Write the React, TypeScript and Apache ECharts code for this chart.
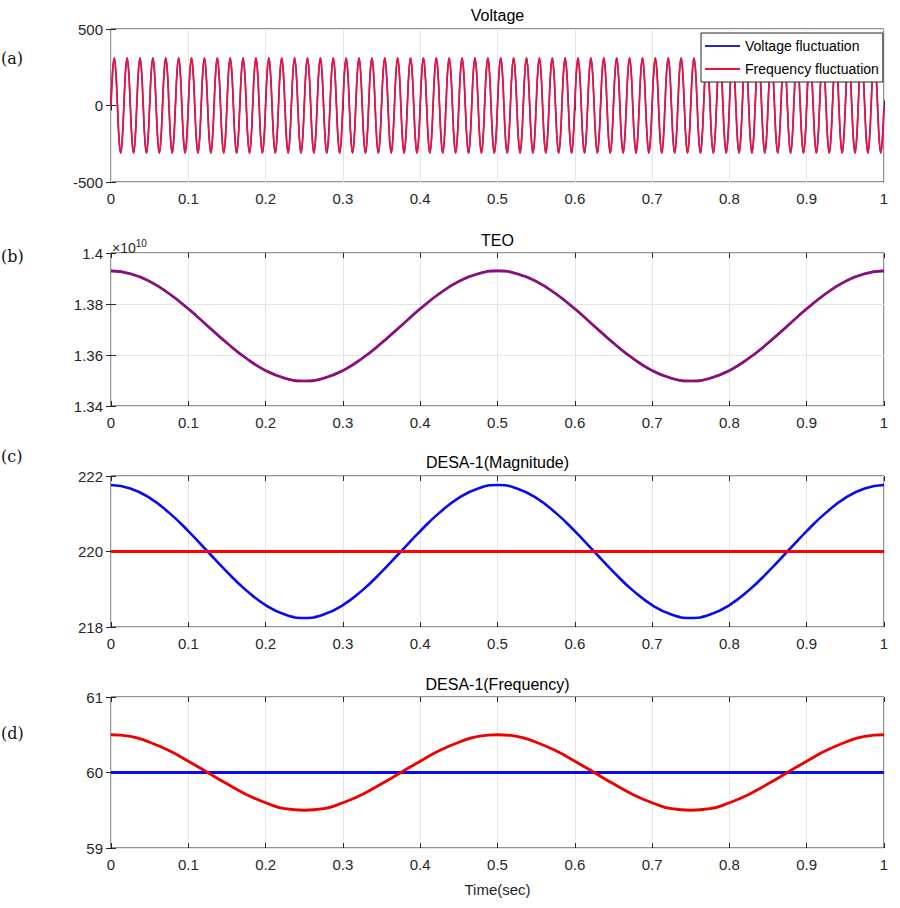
import React, { useEffect, useRef } from 'react';
import * as echarts from 'echarts';

// ---- data ----
const timeSamples = [
  0, 0.025, 0.05, 0.075, 0.1, 0.125, 0.15, 0.175, 0.2, 0.225, 0.25,
  0.275, 0.3, 0.325, 0.35, 0.375, 0.4, 0.425, 0.45, 0.475, 0.5,
  0.525, 0.55, 0.575, 0.6, 0.625, 0.65, 0.675, 0.7, 0.725, 0.75,
  0.775, 0.8, 0.825, 0.85, 0.875, 0.9, 0.925, 0.95, 0.975, 1,
];

// (a) one cycle of each 60 Hz waveform (8 samples), counted 60 cycles in 0..1 s
const voltageCycle = [0, 220, 311, 220, 0, -220, -311, -220];
const frequencyCycle = [0, 220, 311, 220, 0, -220, -311, -220];
const cycleCount = 60;

// (b) TEO (x 1e10)
const teoValues = [
  1.393e10, 1.3919e10, 1.3889e10, 1.3841e10, 1.3781e10, 1.3714e10, 1.3647e10, 1.3587e10, 1.3539e10, 1.3509e10, 1.3498e10,
  1.3509e10, 1.3539e10, 1.3587e10, 1.3647e10, 1.3714e10, 1.3781e10, 1.3841e10, 1.3889e10, 1.3919e10, 1.393e10,
  1.3919e10, 1.3889e10, 1.3841e10, 1.3781e10, 1.3714e10, 1.3647e10, 1.3587e10, 1.3539e10, 1.3509e10, 1.3498e10,
  1.3509e10, 1.3539e10, 1.3587e10, 1.3647e10, 1.3714e10, 1.3781e10, 1.3841e10, 1.3889e10, 1.3919e10, 1.393e10,
];

// (c) DESA-1 magnitude
const magVoltage = [
  221.76, 221.67, 221.42, 221.03, 220.54, 220.0, 219.46, 218.97, 218.58, 218.33, 218.24,
  218.33, 218.58, 218.97, 219.46, 220.0, 220.54, 221.03, 221.42, 221.67, 221.76,
  221.67, 221.42, 221.03, 220.54, 220.0, 219.46, 218.97, 218.58, 218.33, 218.24,
  218.33, 218.58, 218.97, 219.46, 220.0, 220.54, 221.03, 221.42, 221.67, 221.76,
];
const magFrequency = [
  220, 220, 220, 220, 220, 220, 220, 220, 220, 220, 220,
  220, 220, 220, 220, 220, 220, 220, 220, 220, 220,
  220, 220, 220, 220, 220, 220, 220, 220, 220, 220,
  220, 220, 220, 220, 220, 220, 220, 220, 220, 220,
];

// (d) DESA-1 frequency
const freqVoltage = [
  60, 60, 60, 60, 60, 60, 60, 60, 60, 60, 60,
  60, 60, 60, 60, 60, 60, 60, 60, 60, 60,
  60, 60, 60, 60, 60, 60, 60, 60, 60, 60,
  60, 60, 60, 60, 60, 60, 60, 60, 60, 60,
];
const freqFrequency = [
  60.5, 60.48, 60.4, 60.29, 60.15, 60.0, 59.85, 59.71, 59.6, 59.52, 59.5,
  59.52, 59.6, 59.71, 59.85, 60.0, 60.15, 60.29, 60.4, 60.48, 60.5,
  60.48, 60.4, 60.29, 60.15, 60.0, 59.85, 59.71, 59.6, 59.52, 59.5,
  59.52, 59.6, 59.71, 59.85, 60.0, 60.15, 60.29, 60.4, 60.48, 60.5,
];

const panelTitles = ['Voltage', 'TEO', 'DESA-1(Magnitude)', 'DESA-1(Frequency)'];
const panelLetters = ['(a)', '(b)', '(c)', '(d)'];
const seriesNames = ['Voltage fluctuation', 'Frequency fluctuation'];

// ---- layout ----
const FONT = '"Liberation Sans", Arial, Helvetica, sans-serif';
const PLOT_LEFT = 111;
const PLOT_RIGHT = 884;
const panelTops = [29, 253, 476, 697];
const panelHeights = [153, 153, 151, 151];
const titleYs = [15, 240, 462, 684];
const letterYs = [58, 256, 456, 733];
const yRanges = [
  { min: -500, max: 500, interval: 500 },
  { min: 1.34e10, max: 1.4e10, interval: 2e8 },
  { min: 218, max: 222, interval: 2 },
  { min: 59, max: 61, interval: 1 },
];

const AXIS_COLOR = '#262626';
const GRID_COLOR = '#e4e4e4';
const A_BLUE = '#2b2bb0';
const A_RED = '#f0103c';

function pairs(values: number[]) {
  return timeSamples.map((t, i) => [t, values[i]]);
}

function wave(cycle: number[]) {
  const n = cycle.length;
  const total = cycleCount * n;
  const out: number[][] = [];
  for (let c = 0; c < cycleCount; c++) {
    for (let i = 0; i < n; i++) {
      out.push([(c * n + i) / total, cycle[i]]);
    }
  }
  out.push([1, cycle[0]]);
  return out;
}

function buildOption() {
  const grid: any[] = [];
  const xAxis: any[] = [];
  const yAxis: any[] = [];
  panelTops.forEach((top, i) => {
    grid.push({
      left: PLOT_LEFT,
      right: 900 - PLOT_RIGHT,
      top,
      height: panelHeights[i],
      show: true,
      borderColor: AXIS_COLOR,
      borderWidth: 1,
      backgroundColor: '#fff',
    });
    const isLast = i === panelTops.length - 1;
    xAxis.push({
      gridIndex: i,
      type: 'value',
      min: 0,
      max: 1,
      interval: 0.1,
      position: 'bottom',
      axisLine: { show: false },
      axisTick: { show: true, inside: true, length: 5, lineStyle: { color: AXIS_COLOR } },
      axisLabel: { color: AXIS_COLOR, fontSize: 15, fontFamily: FONT, margin: 9 },
      splitLine: { show: true, lineStyle: { color: GRID_COLOR, width: 1 } },
      name: isLast ? 'Time(sec)' : '',
      nameLocation: 'middle',
      nameGap: 34,
      nameTextStyle: { color: AXIS_COLOR, fontSize: 15, fontFamily: FONT },
    });
    xAxis.push({
      gridIndex: i,
      type: 'value',
      min: 0,
      max: 1,
      interval: 0.1,
      position: 'top',
      axisLine: { show: false },
      axisTick: { show: true, inside: true, length: 5, lineStyle: { color: AXIS_COLOR } },
      axisLabel: { show: false },
      splitLine: { show: false },
    });
    const r = yRanges[i];
    yAxis.push({
      gridIndex: i,
      type: 'value',
      min: r.min,
      max: r.max,
      interval: r.interval,
      position: 'left',
      axisLine: { show: false },
      axisTick: { show: true, inside: true, length: 5, lineStyle: { color: AXIS_COLOR } },
      axisLabel: {
        color: AXIS_COLOR,
        fontSize: 15,
        fontFamily: FONT,
        margin: 8,
        formatter: i === 1 ? (v: number) => String(+(v / 1e10).toFixed(2)) : undefined,
      },
      splitLine: { show: true, lineStyle: { color: GRID_COLOR, width: 1 } },
    });
    yAxis.push({
      gridIndex: i,
      type: 'value',
      min: r.min,
      max: r.max,
      interval: r.interval,
      position: 'right',
      axisLine: { show: false },
      axisTick: { show: true, inside: true, length: 5, lineStyle: { color: AXIS_COLOR } },
      axisLabel: { show: false },
      splitLine: { show: false },
    });
  });

  const line = (name: string, idx: number, data: number[][], color: string, width: number, opacity = 1, smooth: any = true) => ({
    name,
    type: 'line',
    xAxisIndex: idx * 2,
    yAxisIndex: idx * 2,
    data,
    showSymbol: false,
    symbol: 'none',
    smooth,
    lineStyle: { color, width, opacity },
    itemStyle: { color },
    emphasis: { disabled: true },
  });

  const series = [
    line(seriesNames[0], 0, wave(voltageCycle), A_BLUE, 1.5, 1, 0.45),
    line(seriesNames[1], 0, wave(frequencyCycle), A_RED, 1.7, 1, 0.45),
    line('TEO voltage', 1, pairs(teoValues), '#1a1ae6', 2.6),
    line('TEO frequency', 1, pairs(teoValues), '#ff0000', 2.6, 0.5),
    line('Magnitude voltage', 2, pairs(magVoltage), '#0a0af0', 2.6),
    line('Magnitude frequency', 2, pairs(magFrequency), '#ff0000', 3),
    line('Frequency voltage', 3, pairs(freqVoltage), '#0a0af0', 3.2),
    line('Frequency frequency', 3, pairs(freqFrequency), '#ee0000', 2.8),
  ];

  const graphics: any[] = [];
  panelTitles.forEach((t, i) => {
    graphics.push({
      type: 'text',
      x: (PLOT_LEFT + PLOT_RIGHT) / 2,
      y: titleYs[i],
      style: {
        text: t,
        textAlign: 'center',
        textVerticalAlign: 'middle',
        fontSize: 16,
        fontFamily: FONT,
        fill: '#000',
      },
    });
  });
  panelLetters.forEach((t, i) => {
    graphics.push({
      type: 'text',
      x: 1,
      y: letterYs[i],
      style: {
        text: t,
        textAlign: 'left',
        textVerticalAlign: 'middle',
        fontSize: 16,
        fontFamily: '"DejaVu Serif", "Noto Sans CJK SC", serif',
        fill: '#111',
      },
    });
  });
  graphics.push({
    type: 'text',
    x: 112,
    y: 235,
    style: {
      text: '{a|×10}{b|10}',
      textAlign: 'left',
      textVerticalAlign: 'top',
      rich: {
        a: { fontSize: 14, fontFamily: FONT, fill: AXIS_COLOR, padding: [6, 0, 0, 0] },
        b: { fontSize: 10, fontFamily: FONT, fill: AXIS_COLOR, padding: [0, 0, 4, 0] },
      },
    },
  });

  return {
    animation: false,
    backgroundColor: '#fff',
    grid,
    xAxis,
    yAxis,
    series,
    legend: {
      data: [
        { name: seriesNames[0], icon: 'rect', itemStyle: { color: A_BLUE } },
        { name: seriesNames[1], icon: 'rect', itemStyle: { color: A_RED } },
      ],
      orient: 'vertical',
      left: 701,
      top: 33,
      padding: [5, 4, 5, 4],
      itemGap: 7,
      itemWidth: 35,
      itemHeight: 2,
      borderColor: AXIS_COLOR,
      borderWidth: 1,
      borderRadius: 0,
      backgroundColor: '#fff',
      textStyle: { fontSize: 14, fontFamily: FONT, color: '#000', lineHeight: 16 },
      selectedMode: false,
      z: 10,
    },
    graphic: graphics,
  };
}

export default function App() {
  const ref = useRef<HTMLDivElement>(null);
  useEffect(() => {
    if (!ref.current) return;
    const chart = echarts.init(ref.current, null, { renderer: 'svg' });
    chart.setOption(buildOption() as any);
    return () => chart.dispose();
  }, []);
  return (
    <div
      ref={ref}
      style={{ position: 'fixed', left: 0, top: 0, width: 900, height: 908, background: '#fff' }}
    />
  );
}
